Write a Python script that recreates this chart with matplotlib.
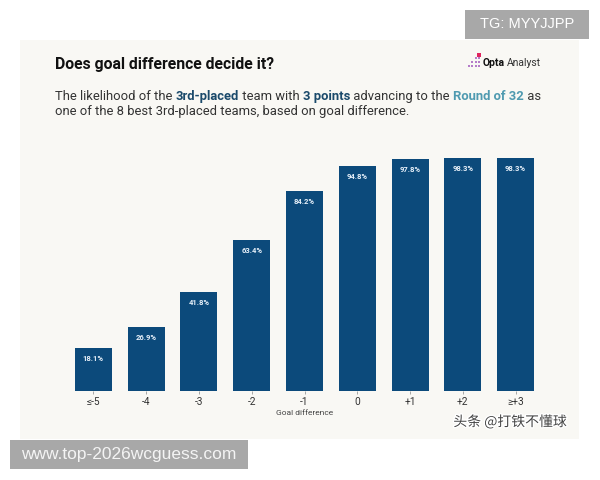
import matplotlib
matplotlib.use("Agg")
import matplotlib.pyplot as plt
from matplotlib.patches import Rectangle
import matplotlib.patheffects as pe

# daten
kategorien = ["≤-5", "-4", "-3", "-2", "-1", "0", "+1", "+2", "≥+3"]
werte = [18.1, 26.9, 41.8, 63.4, 84.2, 94.8, 97.8, 98.3, 98.3]
beschriftung = ["18.1%", "26.9%", "41.8%", "63.4%", "84.2%", "94.8%", "97.8%", "98.3%", "98.3%"]

titel = "Does goal difference decide it?"
zeile1 = [("The likelihood of the ", "normal", "#333333"),
          ("3rd-placed", "bold", "#1b4a6b"),
          (" team with ", "normal", "#333333"),
          ("3 points", "bold", "#1b4a6b"),
          (" advancing to the ", "normal", "#333333"),
          ("Round of 32", "bold", "#4f9ab0"),
          (" as", "normal", "#333333")]
zeile2 = "one of the 8 best 3rd-placed teams, based on goal difference."

plt.rcParams['font.family'] = ['Roboto', 'DejaVu Sans']

W, H = 600, 480
fig = plt.figure(figsize=(6, 4.8), dpi=100, facecolor="white")

def fx(px):
    return px / W

def fy(py):
    return 1 - py / H

# heller hintergrund der grafik
fig.add_artist(Rectangle((fx(20), fy(439)), fx(579) - fx(20), fy(40) - fy(439),
                         transform=fig.transFigure, facecolor="#f9f8f4", edgecolor="none", zorder=0))

ax = fig.add_axes([fx(67), fy(390.7), fx(542) - fx(67), 237 / H])
ax.set_facecolor("none")
x = list(range(len(kategorien)))
ax.bar(x, werte, width=0.7, color="#0c4a7b", zorder=2)
for xi, v, txt in zip(x, werte, beschriftung):
    ax.annotate(txt, (xi, v), xytext=(0, -7.5), textcoords="offset points",
                ha="center", va="center", fontsize=5.5, fontweight="bold", color="#e8f1fa")

ax.set_xlim(-0.5, len(kategorien) - 0.5)
ax.set_ylim(0, 100)
ax.set_yticks([])
ax.set_xticks(x)
ax.set_xticklabels(kategorien, fontsize=7.3, color="#333333")
ax.tick_params(axis="x", length=2.5, width=0.6, color="#999999", pad=2)
for s in ax.spines.values():
    s.set_visible(False)
ax.set_xlabel("Goal difference", fontsize=6, color="#444444", labelpad=2.5)

# titel und untertitel
fig.text(fx(55), fy(65), titel, fontsize=11.3, fontweight="bold", color="#111111",
         va="center", ha="left", family=['Liberation Sans Narrow', 'Roboto'])

# farbige stuecke der ersten zeile nebeneinander setzen
fig.canvas.draw()
renderer = fig.canvas.get_renderer()
xpos = fx(55)
for teil, gewicht, farbe in zeile1:
    t = fig.text(xpos, fy(96.7), teil, fontsize=9.4, color=farbe, fontweight=gewicht,
                 va="center", ha="left")
    xpos += t.get_window_extent(renderer).width / W
fig.text(fx(55), fy(111.5), zeile2, fontsize=9.4, color="#333333", va="center", ha="left")

# opta logo
spalten = [(468, [66]), (471, [66, 62]), (474.5, [66, 62, 58]), (478, [66, 62, 58])]
for sx, ys in spalten:
    for yy in ys:
        fig.add_artist(Rectangle((fx(sx), fy(yy + 1)), 2 / W, 2 / H, transform=fig.transFigure,
                                 facecolor="#b57cc9", edgecolor="none"))
fig.add_artist(Rectangle((fx(477.5), fy(57)), 3.5 / W, 3.5 / H, transform=fig.transFigure,
                         facecolor="#e0245e", edgecolor="none"))
opta = fig.text(fx(483), fy(63), "Opta", fontsize=7.5, fontweight="bold", color="#111111", va="center")
bb = opta.get_window_extent(renderer)
fig.text(bb.x1 / W + 1.5 / W, fy(63), "Analyst", fontsize=7.5, color="#333333", va="center")

# wasserzeichen
fig.add_artist(Rectangle((fx(465), fy(39)), fx(589) - fx(465), fy(10) - fy(39),
                         transform=fig.transFigure, facecolor="#a8a8a8", edgecolor="none"))
fig.text(fx(527), fy(24.5), "TG: MYYJJPP", fontsize=10.5, color="white", ha="center", va="center",
         family=['Liberation Sans', 'DejaVu Sans'])
fig.add_artist(Rectangle((fx(10), fy(469)), fx(248) - fx(10), fy(440) - fy(469),
                         transform=fig.transFigure, facecolor="#a8a8a8", edgecolor="none"))
fig.text(fx(129), fy(454.5), "www.top-2026wcguess.com", fontsize=12.5, color="#f4f4f4",
         ha="center", va="center", family=['Liberation Sans', 'DejaVu Sans'])
fig.text(fx(510), fy(422), "头条 @打铁不懂球", fontsize=10, color="#444444", ha="center", va="center",
         family=['Noto Sans CJK SC', 'DejaVu Sans'],
         path_effects=[pe.withStroke(linewidth=2, foreground="white")])

fig.savefig("out.png", dpi=100, facecolor="white")
